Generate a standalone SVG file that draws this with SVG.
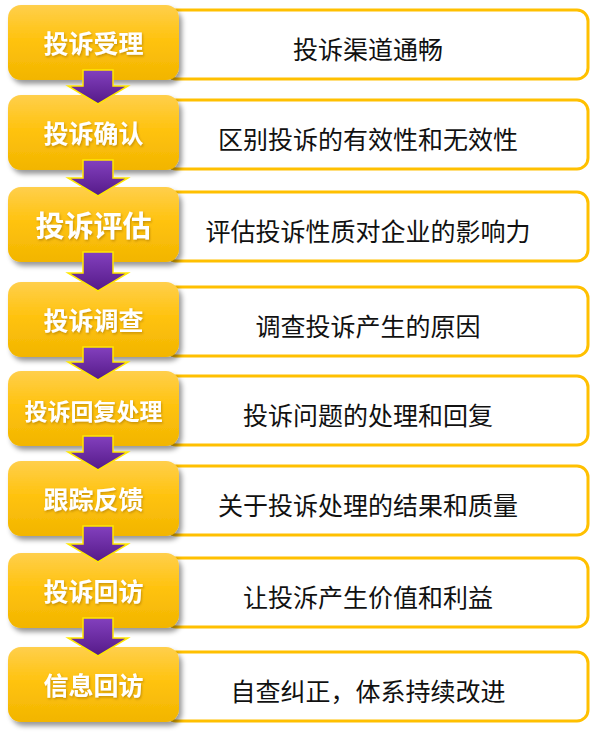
<svg xmlns="http://www.w3.org/2000/svg" width="591" height="734" viewBox="0 0 591 734">
<style>
.desc{fill:#fff;stroke:#FFC000;stroke-width:3}
.step{fill:url(#yg);filter:url(#sh)}
.st{font-family:"Noto Sans CJK SC","Noto Sans",sans-serif;font-weight:bold;fill:#fff;text-anchor:middle;filter:url(#tsh)}
.dt{font-family:"Noto Sans CJK SC","Noto Sans",sans-serif;font-size:25px;fill:#111;text-anchor:middle}
.arr{fill:url(#pg);stroke:#FFE800;stroke-width:1.5;stroke-linejoin:miter}
</style>
<defs>
<linearGradient id="yg" x1="0" y1="0" x2="0" y2="1">
<stop offset="0" stop-color="#FFCF4C"/>
<stop offset="0.45" stop-color="#FFC310"/>
<stop offset="1" stop-color="#F2B500"/>
</linearGradient>
<linearGradient id="pg" x1="0" y1="0" x2="0" y2="1">
<stop offset="0" stop-color="#8340BE"/>
<stop offset="1" stop-color="#551A88"/>
</linearGradient>
<filter id="sh" x="-10%" y="-10%" width="125%" height="135%">
<feDropShadow dx="3" dy="4" stdDeviation="2.5" flood-color="#000" flood-opacity="0.4"/>
</filter>
<filter id="tsh" x="-10%" y="-20%" width="120%" height="150%">
<feDropShadow dx="1" dy="1.5" stdDeviation="1" flood-color="#8a5a00" flood-opacity="0.45"/>
</filter>
</defs>

<g id="desc1"><rect class="desc" x="165" y="10" width="423" height="69" rx="11"/><text class="dt" x="368" y="59">投诉渠道通畅</text></g>
<g id="desc2"><rect class="desc" x="165" y="100" width="423" height="69" rx="11"/><text class="dt" x="368" y="149">区别投诉的有效性和无效性</text></g>
<g id="desc3"><rect class="desc" x="165" y="192" width="423" height="69" rx="11"/><text class="dt" x="368" y="241">评估投诉性质对企业的影响力</text></g>
<g id="desc4"><rect class="desc" x="165" y="287" width="423" height="69" rx="11"/><text class="dt" x="368" y="336">调查投诉产生的原因</text></g>
<g id="desc5"><rect class="desc" x="165" y="376" width="423" height="69" rx="11"/><text class="dt" x="368" y="425">投诉问题的处理和回复</text></g>
<g id="desc6"><rect class="desc" x="165" y="466" width="423" height="69" rx="11"/><text class="dt" x="368" y="515">关于投诉处理的结果和质量</text></g>
<g id="desc7"><rect class="desc" x="165" y="558" width="423" height="69" rx="11"/><text class="dt" x="368" y="607">让投泝产生价值和利益</text></g>
<g id="desc8"><rect class="desc" x="165" y="652" width="423" height="69" rx="11"/><text class="dt" x="368" y="701">自查纠正，体系持续改进</text></g>

<g id="step1"><rect class="step" x="8" y="5" width="171" height="75" rx="13"/><text class="st" x="93.5" y="53" font-size="25">投诉受理</text></g>
<g id="step2"><rect class="step" x="8" y="95" width="171" height="75" rx="13"/><text class="st" x="93.5" y="143" font-size="25">投诉确认</text></g>
<g id="step3"><rect class="step" x="8" y="187" width="171" height="75" rx="13"/><text class="st" x="93.5" y="237" font-size="29">投诉评估</text></g>
<g id="step4"><rect class="step" x="8" y="282" width="171" height="75" rx="13"/><text class="st" x="93.5" y="330" font-size="25">投诉调查</text></g>
<g id="step5"><rect class="step" x="8" y="371" width="171" height="75" rx="13"/><text class="st" x="93.5" y="420" font-size="23">投诉回复处理</text></g>
<g id="step6"><rect class="step" x="8" y="461" width="171" height="75" rx="13"/><text class="st" x="93.5" y="509" font-size="25">跟踪反馈</text></g>
<g id="step7"><rect class="step" x="8" y="553" width="171" height="75" rx="13"/><text class="st" x="93.5" y="601" font-size="25">投诉回访</text></g>
<g id="step8"><rect class="step" x="8" y="647" width="171" height="75" rx="13"/><text class="st" x="93.5" y="695" font-size="25">信息回访</text></g>

<g id="connectors">
<path class="arr" d="M83 70H113V86H128L98 104L68 86H83Z"/>
<path class="arr" d="M83 160H113V178H128L98 196L68 178H83Z"/>
<path class="arr" d="M83 252H113V273H128L98 291L68 273H83Z"/>
<path class="arr" d="M83 347H113V362H128L98 380L68 362H83Z"/>
<path class="arr" d="M83 436H113V452H128L98 470L68 452H83Z"/>
<path class="arr" d="M83 526H113V544H128L98 562L68 544H83Z"/>
<path class="arr" d="M83 618H113V638H128L98 656L68 638H83Z"/>
</g>
</svg>
